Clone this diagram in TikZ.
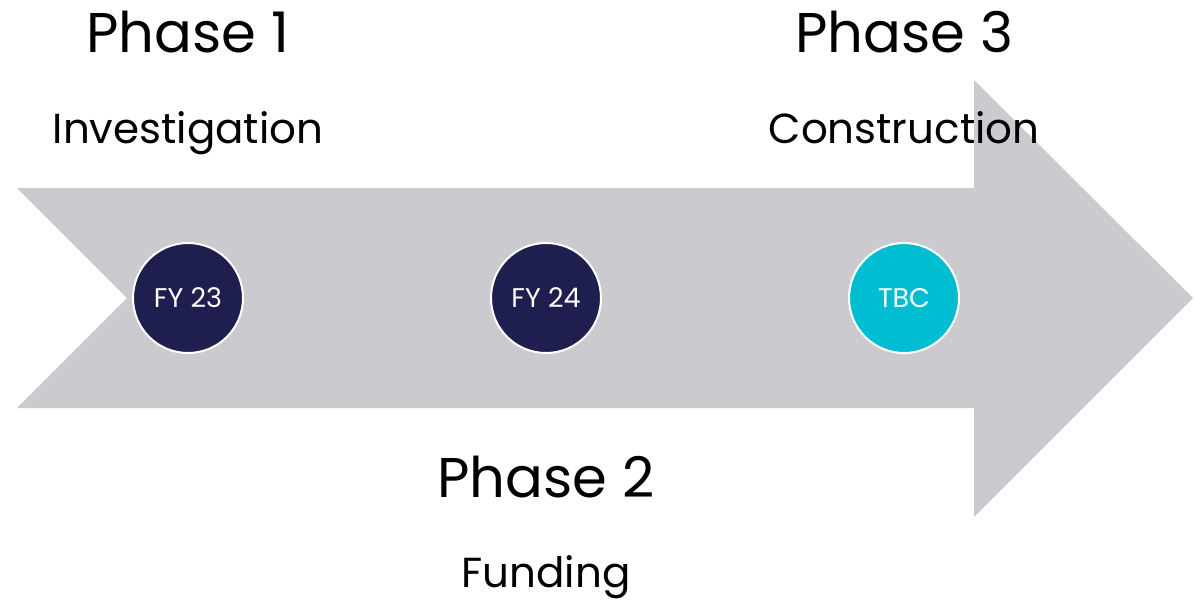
\documentclass[tikz,border=0pt]{standalone}
\usepackage{fontspec}
\setmainfont{Poppins}
\usepackage{tikz}
\usetikzlibrary{positioning}

\definecolor{arrowgray}{HTML}{CBCBCF}
\definecolor{navy}{HTML}{1E1F4E}
\definecolor{teal}{HTML}{00BDD1}

\begin{document}
\begin{tikzpicture}[x=1pt,y=-1pt,node distance=246pt,
  milestone/.style={circle,draw=white,line width=2pt,minimum size=110pt,inner sep=0pt,text=white,font=\fontsize{27}{27}\selectfont},
  phase/.style={anchor=base,font=\fontsize{56}{56}\selectfont},
  task/.style={anchor=base,font=\fontsize{42}{42}\selectfont}]
 \useasboundingbox (0,0) rectangle (1195,600);

 % big arrow
 \fill[arrowgray] (17,188) -- (974,188) -- (974,80) -- (1193,298)
   -- (974,517) -- (974,408) -- (17,408) -- (127,298) -- cycle;

 \node[milestone,fill=navy] (fy23) at (188,298) {FY 23};
 \node[milestone,fill=navy] (fy24) [right= of fy23] {FY 24};
 \node[milestone,fill=teal] (tbc) [right= of fy24] {TBC};

 \node[phase] (phase1) at (188,52) {Phase 1};
 \node[task] (invest) at (188,143) {Investigation};

 \node[phase] (phase2) at (546,497) {Phase 2};
 \node[task] (fund) at (546,587) {Funding};

 \node[phase] (phase3) at (904,52) {Phase 3};
 \node[task] (constr) at (904,143) {Construction};
\end{tikzpicture}
\end{document}
